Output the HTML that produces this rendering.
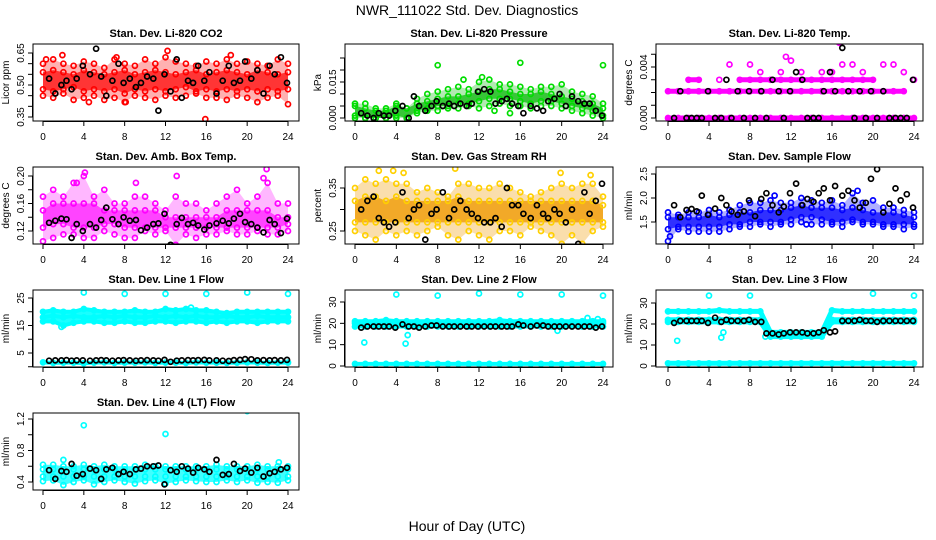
<!DOCTYPE html>
<html><head><meta charset="utf-8">
<style>
html,body{margin:0;padding:0;background:#fff;}
svg{display:block;font-family:"Liberation Sans",Arial,sans-serif;}
</style></head>
<body>
<svg id="chart" width="936" height="540" viewBox="0 0 936 540" xmlns="http://www.w3.org/2000/svg">
<rect width="936" height="540" fill="#fff"/>
<text x="467" y="15" text-anchor="middle" font-size="14">NWR_111022  Std. Dev. Diagnostics</text>
<text x="467" y="531" text-anchor="middle" font-size="14">Hour of Day (UTC)</text>
</svg>
<script>
// ---- shared x data ----
const hours = [0,1,2,3,4,5,6,7,8,9,10,11,12,13,14,15,16,17,18,19,20,21,22,23,24];
const xTicks = [0,4,8,12,16,20,24];
const blackX = [0.6,1.2,1.8,2.3,2.8,3.3,3.9,4.6,5.2,5.7,6.2,6.8,7.4,7.9,8.5,9.1,9.6,10.2,10.8,11.3,11.9,12.5,13.1,13.6,14.2,14.7,15.2,15.8,16.3,17.0,17.6,18.2,18.7,19.3,19.8,20.4,21.0,21.6,22.2,22.7,23.3,23.9];

// ---- panel 1: CO2 ----
const co2Hi  = [0.60,0.62,0.60,0.59,0.61,0.60,0.58,0.62,0.60,0.59,0.62,0.60,0.63,0.61,0.60,0.59,0.61,0.60,0.62,0.60,0.61,0.60,0.59,0.62,0.60];
const co2Up  = [0.56,0.57,0.56,0.55,0.57,0.56,0.55,0.56,0.57,0.55,0.56,0.57,0.56,0.55,0.56,0.57,0.55,0.56,0.57,0.56,0.55,0.57,0.56,0.55,0.56];
const co2Lo  = [0.48,0.47,0.48,0.49,0.47,0.48,0.47,0.48,0.46,0.48,0.47,0.48,0.47,0.48,0.49,0.47,0.48,0.47,0.48,0.47,0.48,0.47,0.48,0.47,0.48];
const co2Low = [0.45,0.44,0.46,0.43,0.44,0.45,0.43,0.44,0.42,0.45,0.44,0.43,0.45,0.44,0.45,0.46,0.44,0.44,0.43,0.45,0.44,0.42,0.44,0.45,0.41];
const co2OutX = [0.3,1.9,4.5,7.2,8.1,12.2,18.4,15.9];
const co2OutY = [0.62,0.64,0.42,0.63,0.42,0.66,0.64,0.34];
const co2Black = [0.53,0.46,0.50,0.52,0.48,0.53,0.59,0.55,0.67,0.54,0.45,0.52,0.60,0.51,0.53,0.49,0.51,0.54,0.53,0.38,0.55,0.47,0.62,0.44,0.52,0.51,0.59,0.52,0.56,0.46,0.52,0.59,0.51,0.52,0.61,0.53,0.57,0.46,0.59,0.55,0.63,0.51];
const co2Ticks = [0.35,0.40,0.45,0.50,0.55,0.60,0.65];
const co2Labels = ["0.35","","","0.50","","","0.65"];

// ---- panel 2: pressure ----
const prHi  = [.006,.006,.004,.004,.006,.004,.008,.010,.011,.012,.013,.012,.015,.016,.014,.014,.013,.012,.013,.013,.014,.011,.010,.009,.006];
const prUp  = [.005,.004,.003,.003,.005,.004,.006,.007,.008,.009,.009,.010,.011,.012,.012,.011,.010,.010,.011,.010,.009,.008,.007,.006,.004];
const prLo  = [.001,.000,.000,.000,.001,.000,.003,.004,.005,.005,.006,.006,.007,.008,.008,.008,.007,.006,.007,.007,.006,.005,.004,.003,.001];
const prLow = [.000,.000,.000,.000,.000,.000,.002,.003,.003,.004,.004,.005,.004,.005,.006,.005,.005,.004,.005,.005,.004,.003,.002,.001,.000];
const prOutX = [8,16,24,10.5,12.3,15,13.5];
const prOutY = [.022,.023,.022,.016,.017,.002,.003];
const prBlack = [0.002,0.001,0.000,0.002,0.001,0.001,0.003,0.005,0.000,0.009,0.005,0.003,0.005,0.007,0.005,0.006,0.005,0.006,0.005,0.006,0.011,0.012,0.011,0.006,0.007,0.008,0.006,0.005,0.002,0.005,0.004,0.003,0.007,0.008,0.010,0.005,0.009,0.007,0.006,0.006,0.003,0.001];
const prTicks = [0,0.005,0.010,0.015,0.020,0.025];
const prLabels = ["0.000","","","0.015","",""];

// ---- panel 3: Li-820 temp ----
const tpR0 = [null,null,null,null,null,null,0.0042,null,0.0042,0.0036,null,0.0036,0.0045,0.0036,null,0.0036,0.0036,0.0042,0.0042,0.0036,null,0.0042,0.0042,0.0036,null];
const tpR1 = [null,null,0.003,0.003,null,0.003,null,0.003,0.003,0.003,0.003,0.003,0.003,0.003,0.003,0.003,0.003,0.003,0.003,0.003,0.003,null,null,null,0.003];
const tpR2 = [0.0021,0.0021,0.0021,0.0021,0.0021,0.0021,0.0021,0.0021,0.0021,0.0021,0.0021,0.0021,0.0021,0.0021,0.0021,0.0021,0.0021,0.0021,0.0021,0.0021,0.0021,0.0021,0.0021,0.0021,null];
const tpR3 = [0,0,0,0,0,0,0,0,0,0,0,0,0,0,0,0,0,0,0,0,0,0,0,0,0];
const tpOutX = [16.7,11.5];
const tpOutY = [0.0059,0.0048];
const tpBlack = [0,0.0021,0,0,0,0,0.0021,0,0,0.0030,0,0.0021,0,0.0021,0,0.0021,0,0.0030,0.0021,0,0.0021,0.0036,0.0030,0,0,0,0.0021,0.0036,0.0021,0.0055,0.0021,0,0.0021,0,0.0021,0,0.0021,0,0,0,0,0.0030];
const tpTicks = [0,0.001,0.002,0.003,0.004,0.005,0.006];
const tpLabels = ["0.000","","","","0.004","",""];

// ---- panel 4: amb box temp ----
const abHi  = [.17,.18,.17,.19,.20,.17,.18,.16,.16,.17,.17,.16,.15,.17,.16,.16,.15,.16,.17,.18,.16,.17,.19,.16,.16];
const abUp  = [.15,.16,.16,.16,.16,.16,.15,.15,.15,.15,.15,.15,.14,.14,.14,.14,.14,.14,.15,.15,.15,.15,.15,.14,.14];
const abLo  = [.125,.13,.13,.125,.125,.125,.13,.13,.125,.125,.125,.125,.125,.125,.125,.125,.125,.125,.125,.125,.125,.125,.125,.125,.13];
const abLow = [.105,.11,.115,.115,.11,.11,.12,.115,.11,.11,.12,.115,.12,.10,.115,.11,.115,.115,.12,.115,.115,.12,.115,.115,.12];
const abOutX = [4.1,9.1,13.1,21.9,21.6,3.3];
const abOutY = [.205,.19,.20,.21,.197,.19];
const abBlack = [.132,.135,.138,.137,.110,.130,.120,.130,.125,.136,.154,.137,.130,.140,.135,.136,.121,.125,.130,.131,.145,.100,.130,.139,.130,.132,.128,.122,.128,.131,.135,.131,.138,.145,.133,.130,.125,.118,.136,.130,.117,.138];
const abTicks = [0.12,0.14,0.16,0.18,0.20];
const abLabels = ["0.12","","0.16","","0.20"];

// ---- panel 5: gas stream RH ----
const rhHi  = [.35,.37,.36,.37,.36,.36,.34,.35,.34,.33,.36,.36,.35,.35,.36,.35,.34,.33,.34,.35,.36,.35,.36,.36,.33];
const rhUp  = [.32,.33,.33,.32,.33,.32,.32,.32,.32,.32,.33,.32,.32,.32,.32,.32,.32,.32,.32,.32,.32,.32,.32,.32,.31];
const rhLo  = [.27,.27,.27,.27,.27,.27,.27,.27,.27,.27,.27,.27,.27,.27,.27,.27,.27,.27,.27,.27,.27,.27,.27,.27,.27];
const rhLow = [.25,.24,.23,.25,.24,.25,.24,.25,.26,.24,.23,.25,.24,.23,.25,.25,.24,.26,.25,.24,.22,.24,.22,.25,.26];
const rhOutX = [2.3,3.7,9.7,4.7,22.8,19.9];
const rhOutY = [.39,.39,.395,.385,.38,.385];
const rhBlack = [.30,.32,.33,.28,.27,.26,.27,.34,.28,.30,.31,.23,.29,.30,.34,.28,.30,.32,.30,.29,.28,.27,.27,.28,.26,.35,.31,.31,.29,.28,.31,.29,.28,.30,.29,.27,.30,.22,.34,.29,.32,.36];
const rhTicks = [0.25,0.30,0.35];
const rhLabels = ["0.25","","0.35"];

// ---- panel 6: sample flow ----
const sfHi  = [1.7,1.65,1.7,1.7,1.75,1.7,1.75,1.85,1.9,1.9,1.95,1.9,1.9,2.0,1.95,1.9,1.95,1.85,2.1,1.9,1.95,1.8,1.8,1.75,1.7];
const sfUp  = [1.6,1.6,1.6,1.6,1.65,1.6,1.65,1.7,1.7,1.75,1.75,1.75,1.8,1.85,1.8,1.8,1.8,1.75,1.8,1.75,1.7,1.7,1.7,1.65,1.6];
const sfLo  = [1.35,1.4,1.4,1.4,1.4,1.4,1.45,1.45,1.5,1.5,1.5,1.5,1.55,1.6,1.6,1.55,1.5,1.5,1.55,1.5,1.5,1.45,1.45,1.45,1.45];
const sfLow = [1.1,1.35,1.3,1.3,1.3,1.3,1.35,1.4,1.4,1.45,1.4,1.45,1.45,1.5,1.45,1.45,1.45,1.4,1.5,1.45,1.45,1.4,1.4,1.35,1.4];
const sfOutX = [0.2,10.4,18.5,13.5];
const sfOutY = [1.2,2.05,2.15,1.45];
const sfBlack = [1.85,1.6,1.75,1.77,1.72,2.05,1.65,1.78,2.0,1.85,1.72,1.65,1.72,1.95,1.62,1.98,2.1,1.85,1.7,1.82,2.1,2.3,1.85,1.98,1.92,2.1,2.2,1.95,2.25,2.05,2.15,1.95,1.8,1.9,2.4,2.6,1.7,1.88,2.2,1.95,2.08,1.8];
const sfTicks = [1.5,2.0,2.5];
const sfLabels = ["1.5","2.0","2.5"];

// ---- panel 7: line 1 flow ----
const l1A = [20,20.5,20,20,21,20.5,20,20,20,20.5,20,20,21,20.5,21,20.5,20.5,20,19.5,20,20,20,20,20,20];
const l1B = [18,18.5,18,18.5,18,18,18.5,18,18.5,18,18,18.5,18,18.5,18,18.5,18,18,18.5,18,18,18.5,18,18,18];
const l1C = [16.5,16.5,15,16,16.5,16.5,16,16,16.5,16,16,16.5,16.5,16,16.5,16.5,16,16.5,16,16.5,16.5,16,16.5,16.5,16.5];
const l1D = [1.6,1.4,1.5,1.5,1.3,1.5,1.6,1.4,1.5,1.5,1.6,1.4,1.5,1.5,1.4,1.6,1.5,1.5,1.4,1.5,1.6,1.5,1.4,1.5,1.5];
const l1OutX = [4,8,12,16,20,24,1.8,14.5];
const l1OutY = [27,26.5,26.5,26.5,27,26.5,14.5,21.5];
const l1Black = [2.2,2.3,2.3,2.4,2.2,2.3,2.3,2.2,2.3,2.4,2.3,2.2,2.3,2.4,2.3,2.2,2.3,2.4,2.3,2.2,2.5,1.8,2.2,2.3,2.4,2.3,2.4,2.5,2.3,2.3,2.2,2.1,2.4,2.5,2.8,2.7,2.3,2.4,2.3,2.4,2.3,2.5];
const l1Ticks = [0,5,10,15,20,25];
const l1Labels = ["","5","","15","","25"];

// ---- panel 8: line 2 flow ----
const l2A = [21,21,21,21.5,21,21,21,21,21,21,21,21,21,21,21.5,21,21,21,21,21,21,21,21,21,21];
const l2B = [20,20,20,20,20,20,20,20,20,20,20,20,20,20,20,20,20,20,20,20,20,20,20,20,20];
const l2C = [18.5,18.5,18.5,18.5,18.5,18.5,18.5,18.5,18.5,18.5,18.5,18.5,18.5,18.5,18.5,18.5,18.5,18.5,18.5,18.5,18.5,18.5,18.5,18.5,18.5];
const l2D = [1,1,1,1,1,1,1,1,1,1,1,1,1,1,1,1,1,1,1,1,1,1,1,1,1];
const l2OutX = [0.9,4,4.9,5.1,8,12,16,19.6,20,22.5,23.5,24];
const l2OutY = [11,33.5,10.5,14.5,33,34,33.5,16.5,33.5,22.5,22,33];
const l2Black = [18,18.5,18.5,18.5,18.5,18.5,18,19.5,18.5,18.5,18,18.5,19,19,18.5,18.5,18.5,18.5,18.5,18.5,18.5,18.5,18.5,18.5,18.5,18.5,18.5,19.5,19,18.5,19,19,18.5,18.5,18.5,18.5,18.5,18.5,18.5,18.5,18,18.5];
const l2Ticks = [0,10,20,30];
const l2Labels = ["0","10","20","30"];

// ---- panel 9: line 3 flow ----
const l3A = [26,26,26,26,26,26.5,26,26,26,26,16,16,16,16,16,16,26.5,26,26,26,26,26,26,26,26];
const l3B = [22,22,22,22,22,22,22,22,22,22,15,15,15,15,15,15,22,22,22,22,22,22,22,22,22];
const l3C = [21,21,21,21,21,21,21,21,21,21,14,14,14,14,14,14,21,21,21,21,21,21,21,21,21];
const l3D = [1.3,1.3,1.3,1.3,1.3,1.3,1.3,1.3,1.3,1.3,1.3,1.3,1.3,1.3,1.3,1.3,1.3,1.3,1.3,1.3,1.3,1.3,1.3,1.3,1.3];
const l3OutX = [0.9,4,5.2,5.4,8,20,24,9.5];
const l3OutY = [12,33.5,13.5,16,33.5,34.5,33.5,14];
const l3Black = [20.5,21.5,21.5,21.5,21.5,21.5,20.5,23,21,22,21.5,21.5,21.5,22,21,21,15.5,15.5,15,15.5,16,16,16,15.5,15.5,16,17,16,16.5,21.5,21.5,21.5,22,21.5,21.5,21,21.5,21.5,21.5,21.5,21.5,21.5];
const l3Ticks = [0,10,20,30];
const l3Labels = ["0","10","20","30"];

// ---- panel 10: line 4 flow ----
const l4A = [.62,.62,.6,.6,.62,.6,.62,.6,.6,.6,.62,.6,.6,.6,.6,.6,.6,.62,.6,.6,.6,.62,.6,.6,.6];
const l4B = [.56,.56,.56,.56,.56,.56,.56,.56,.56,.56,.56,.56,.56,.56,.56,.56,.56,.56,.56,.56,.56,.56,.56,.56,.56];
const l4C = [.47,.47,.47,.47,.47,.47,.47,.47,.47,.47,.47,.47,.47,.47,.47,.47,.47,.47,.47,.47,.47,.47,.47,.47,.47];
const l4D = [.41,.42,.36,.4,.42,.37,.4,.42,.4,.38,.41,.42,.38,.4,.42,.41,.4,.4,.42,.4,.42,.39,.4,.39,.42];
const l4OutX = [2,4,12,20,23.1];
const l4OutY = [.68,1.12,1.01,1.3,.65];
const l4Black = [.55,.44,.54,.53,.63,.48,.5,.57,.55,.44,.56,.58,.5,.53,.5,.56,.57,.6,.6,.61,.37,.55,.53,.6,.57,.52,.58,.56,.53,.68,.49,.5,.63,.54,.57,.52,.58,.47,.51,.53,.56,.58];
const l4Ticks = [0.4,0.6,0.8,1.0,1.2];
const l4Labels = ["0.4","","0.8","","1.2"];

// ---- layout (pixels, not data) ----
const NS = "http://www.w3.org/2000/svg";
const svg = document.getElementById('chart');
const colBox = [[33,299],[345,613],[656,923]];
const colX = [[43,288],[355,603],[668,914]];
const rowTop = [44,167,290,413];
const BOXH = 77;

function mk(tag, attrs, parent){
  const e = document.createElementNS(NS, tag);
  for (const k in attrs) e.setAttribute(k, attrs[k]);
  (parent||svg).appendChild(e);
  return e;
}

const OUTER = [0,3,0.35], INNER = [1,2,0.85], TOP3 = [0,2,0.9], ALL = [0,3,0.75];
const panels = [
 {name:'co2',title:'Stan. Dev. Li-820 CO2',ylab:'Licor ppm',col:0,row:0,color:'#ff0000',band:'#ff2020',
  rows:[co2Hi,co2Up,co2Lo,co2Low],outX:co2OutX,outY:co2OutY,black:co2Black,ticks:co2Ticks,labels:co2Labels,a:[0.35,117],b:[0.65,53],fills:[OUTER,INNER],thickRows:[],thick:0},
 {name:'pressure',title:'Stan. Dev. Li-820 Pressure',ylab:'kPa',col:1,row:0,color:'#00dd00',band:'#22c022',
  rows:[prHi,prUp,prLo,prLow],outX:prOutX,outY:prOutY,black:prBlack,ticks:prTicks,labels:prLabels,a:[0,118],b:[0.015,82],fills:[OUTER,INNER],thickRows:[],thick:0},
 {name:'licor-temp',title:'Stan. Dev. Li-820 Temp.',ylab:'degrees C',col:2,row:0,color:'#ff00ff',band:'#ff00ff',
  rows:[tpR0,tpR1,tpR2,tpR3],outX:tpOutX,outY:tpOutY,black:tpBlack,ticks:tpTicks,labels:tpLabels,a:[0,118],b:[0.004,67],fills:[],thickRows:[1,2,3],thick:5},
 {name:'amb-box-temp',title:'Stan. Dev. Amb. Box Temp.',ylab:'degrees C',col:0,row:1,color:'#ff00ff',band:'#ff30ff',
  rows:[abHi,abUp,abLo,abLow],outX:abOutX,outY:abOutY,black:abBlack,ticks:abTicks,labels:abLabels,a:[0.12,231],b:[0.20,176],fills:[OUTER,INNER],thickRows:[],thick:0},
 {name:'gas-stream-rh',title:'Stan. Dev. Gas Stream RH',ylab:'percent',col:1,row:1,color:'#ffd000',band:'#f0a010',
  rows:[rhHi,rhUp,rhLo,rhLow],outX:rhOutX,outY:rhOutY,black:rhBlack,ticks:rhTicks,labels:rhLabels,a:[0.25,231],b:[0.35,188],fills:[OUTER,INNER],thickRows:[],thick:0},
 {name:'sample-flow',title:'Stan. Dev. Sample Flow',ylab:'ml/min',col:2,row:1,color:'#0000ff',band:'#1a1aff',
  rows:[sfHi,sfUp,sfLo,sfLow],outX:sfOutX,outY:sfOutY,black:sfBlack,ticks:sfTicks,labels:sfLabels,a:[1.5,222],b:[2.5,174],fills:[OUTER,INNER],thickRows:[],thick:0},
 {name:'line1-flow',title:'Stan. Dev. Line 1 Flow',ylab:'ml/min',col:0,row:2,color:'#00ffff',band:'#00ffff',
  rows:[l1A,l1B,l1C,l1D],outX:l1OutX,outY:l1OutY,black:l1Black,ticks:l1Ticks,labels:l1Labels,a:[5,353],b:[25,298],fills:[TOP3],thickRows:[0,1,2,3],thick:4},
 {name:'line2-flow',title:'Stan. Dev. Line 2 Flow',ylab:'ml/min',col:1,row:2,color:'#00ffff',band:'#00ffff',
  rows:[l2A,l2B,l2C,l2D],outX:l2OutX,outY:l2OutY,black:l2Black,ticks:l2Ticks,labels:l2Labels,a:[0,366],b:[30,302],fills:[TOP3],thickRows:[0,1,2,3],thick:4},
 {name:'line3-flow',title:'Stan. Dev. Line 3 Flow',ylab:'ml/min',col:2,row:2,color:'#00ffff',band:'#00ffff',
  rows:[l3A,l3B,l3C,l3D],outX:l3OutX,outY:l3OutY,black:l3Black,ticks:l3Ticks,labels:l3Labels,a:[0,366],b:[30,303],fills:[],thickRows:[0,1,2,3],thick:5},
 {name:'line4-flow',title:'Stan. Dev. Line 4 (LT) Flow',ylab:'ml/min',col:0,row:3,color:'#00ffff',band:'#00ffff',
  rows:[l4A,l4B,l4C,l4D],outX:l4OutX,outY:l4OutY,black:l4Black,ticks:l4Ticks,labels:l4Labels,a:[0.4,482],b:[1.2,419],fills:[ALL],thickRows:[],thick:0}
];

panels.forEach(p => {
  const bx = colBox[p.col], top = rowTop[p.row], bot = top + BOXH;
  const cx = colX[p.col];
  const xs = h => cx[0] + (h/24)*(cx[1]-cx[0]);
  const ys = v => p.a[1] + (v - p.a[0])*(p.b[1]-p.a[1])/(p.b[0]-p.a[0]);
  const g = mk('g', {});
  
  
  const clipId = 'clip-' + p.name;
  const cp = mk('clipPath', {id: clipId}, g);
  mk('rect', {x: bx[0], y: top, width: bx[1]-bx[0], height: BOXH}, cp);
  const marks = mk('g', {'clip-path': 'url(#' + clipId + ')'}, g);
  
  

  p.fills.forEach(pr => {
    const A = p.rows[pr[0]], B = p.rows[pr[1]];
    let d = '';
    hours.forEach((h,i)=>{ d += (i?'L':'M') + xs(h).toFixed(1) + ',' + ys(A[i]).toFixed(1); });
    for (let i = hours.length-1; i >= 0; i--) d += 'L' + xs(hours[i]).toFixed(1) + ',' + ys(B[i]).toFixed(1);
    const poly = mk('path', {d: d + 'Z', fill: p.band, 'fill-opacity': pr[2], stroke: 'none'}, marks);
    
    
  });
  p.thickRows.forEach(ri => {
    const R = p.rows[ri];
    let d = '', pen = false;
    hours.forEach((h,i)=>{
      if (R[i] === null) { pen = false; return; }
      d += (pen?'L':'M') + xs(h).toFixed(1) + ',' + ys(R[i]).toFixed(1);
      pen = true;
    });
    const ln = mk('path', {d: d, fill: 'none', stroke: p.band, 'stroke-width': p.thick, 'stroke-linecap': 'round', 'stroke-linejoin': 'round'}, marks);
    
    
  });
  p.rows.forEach(R => {
    hours.forEach((h,i)=>{
      if (R[i] === null) return;
      const c = mk('circle', {cx: xs(h).toFixed(1), cy: ys(R[i]).toFixed(1), r: 2.5, fill: 'none', stroke: p.color, 'stroke-width': 1.7}, marks);
      
      
    });
  });
  p.outX.forEach((h,i)=>{
    const c = mk('circle', {cx: xs(h).toFixed(1), cy: ys(p.outY[i]).toFixed(1), r: 2.5, fill: 'none', stroke: p.color, 'stroke-width': 1.7}, marks);
    
    
  });
  blackX.forEach((h,i)=>{
    const c = mk('circle', {cx: xs(h).toFixed(1), cy: ys(p.black[i]).toFixed(1), r: 2.5, fill: 'none', stroke: '#000', 'stroke-width': 1.7}, marks);
    
    
  });

  const box = mk('rect', {x: bx[0], y: top, width: bx[1]-bx[0], height: BOXH, fill: 'none', stroke: '#000', 'stroke-width': 1}, g);
  
  

  const t = mk('text', {x: (bx[0]+bx[1])/2, y: top-7, 'text-anchor': 'middle', 'font-size': 11, 'font-weight': 'bold'}, g);
  t.textContent = p.title;
  
  

  const xa = mk('g', {}, g);
  
  
  mk('line', {x1: xs(xTicks[0]), x2: xs(xTicks[xTicks.length-1]), y1: bot+0.5, y2: bot+0.5, stroke: '#000'}, xa);
  xTicks.forEach(v => {
    mk('line', {x1: xs(v), x2: xs(v), y1: bot, y2: bot+5, stroke: '#000'}, xa);
    const tl = mk('text', {x: xs(v), y: bot+19, 'text-anchor': 'middle', 'font-size': 10}, xa);
    tl.textContent = String(v);
    
    
  });

  const ya = mk('g', {}, g);
  
  
  const yv = p.ticks.map(ys).filter(y => y >= top-1 && y <= bot+1);
  mk('line', {x1: bx[0]-0.5, x2: bx[0]-0.5, y1: Math.min(...yv), y2: Math.max(...yv), stroke: '#000'}, ya);
  p.ticks.forEach((v,i) => {
    const y = ys(v);
    if (y < top-1 || y > bot+1) return;
    mk('line', {x1: bx[0]-5, x2: bx[0], y1: y, y2: y, stroke: '#000'}, ya);
    if (p.labels[i]) {
      const lx = bx[0]-9;
      const tl = mk('text', {x: lx, y: y, 'text-anchor': 'middle', 'font-size': 10, transform: 'rotate(-90 ' + lx + ' ' + y + ')'}, ya);
      tl.textContent = p.labels[i];
      
      
    }
  });
  const ylx = bx[0]-24, yly = top + BOXH/2;
  const yl = mk('text', {x: ylx, y: yly, 'text-anchor': 'middle', 'font-size': 10, transform: 'rotate(-90 ' + ylx + ' ' + yly + ')'}, ya);
  yl.textContent = p.ylab;
  
  
});
</script>
</body></html>
